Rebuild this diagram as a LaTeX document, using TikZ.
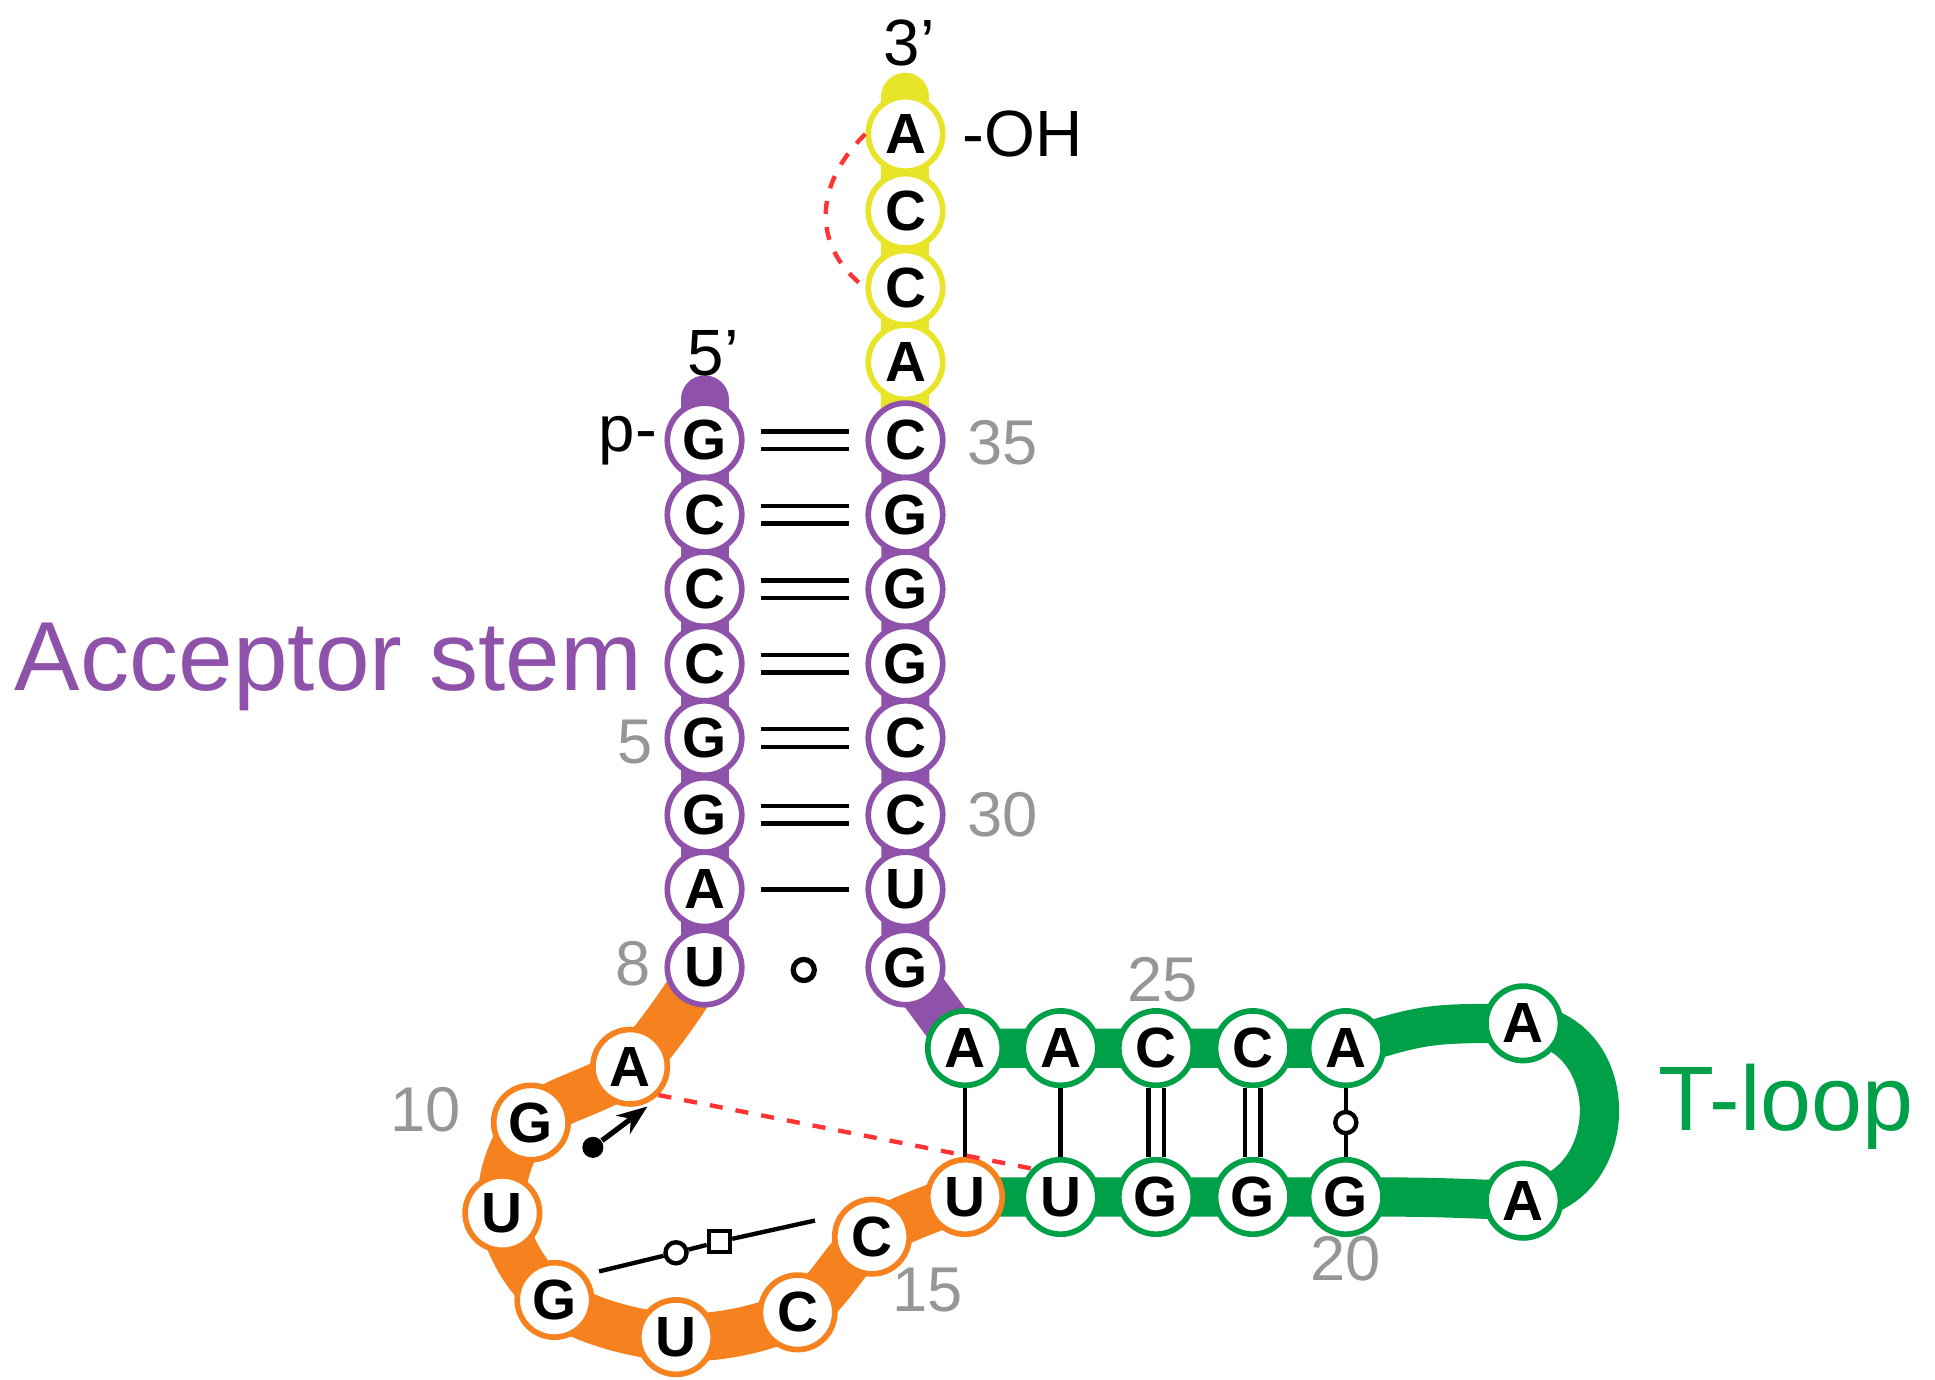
\documentclass[tikz,border=0pt]{standalone}
\usepackage{fontspec}
\setmainfont{Liberation Sans}
\usetikzlibrary{backgrounds,arrows.meta}
\definecolor{pur}{RGB}{143,82,170}
\definecolor{org}{RGB}{245,130,30}
\definecolor{grn}{RGB}{0,160,72}
\definecolor{yel}{RGB}{232,228,40}
\definecolor{gry}{RGB}{150,150,150}
\begin{document}
\begin{tikzpicture}[x=0.01cm,y=-0.01cm,
 base/.style={circle,draw=#1,line width=1.3pt,fill=white,minimum size=0.6cm,inner sep=0pt,font=\bfseries\fontsize{13}{13}\selectfont},
 bar/.style={line width=11pt,#1,line cap=round,line join=round},
 num/.style={gry,font=\fontsize{14.5}{14.5}\selectfont},
 lab/.style={font=\fontsize{15}{15}\selectfont},
 pr/.style={line width=1pt},
 dp/.style={line width=1pt,double,double distance=3pt,shorten <=0.13cm,shorten >=0.13cm}]
\useasboundingbox (0,0) rectangle (1560,1112);
\foreach \n/\y/\t in {1/355/G,2/415/C,3/475/C,4/535/C,5/595/G,6/657/G,7/717/A,8/780/U}
  \node[base=pur] (l\n) at (568,\y) {\t};
\foreach \n/\y/\t in {1/108/A,2/170/C,3/232/C,4/292/A}
  \node[base=yel] (y\n) at (730,\y) {\t};
\foreach \n/\y/\t in {1/355/C,2/415/G,3/475/G,4/535/G,5/595/C,6/657/C,7/717/U,8/780/G}
  \node[base=pur] (r\n) at (730,\y) {\t};
\node[base=org] (o1) at (508,860) {A};
\node[base=org] (o2) at (428,905) {G};
\node[base=org] (o3) at (405,978) {U};
\node[base=org] (o4) at (447,1048) {G};
\node[base=org] (o5) at (545,1078) {U};
\node[base=org] (o6) at (643,1058) {C};
\node[base=org] (o7) at (703,997) {C};
\node[base=org] (o8) at (778,965) {U};
\foreach \n/\x/\t in {1/778/A,2/855/A,3/932/C,4/1010/C,5/1085/A}
  \node[base=grn] (t\n) at (\x,845) {\t};
\foreach \n/\x/\t in {2/855/U,3/932/G,4/1010/G,5/1085/G}
  \node[base=grn] (b\n) at (\x,965) {\t};
\node[base=grn] (tA) at (1228,825) {A};
\node[base=grn] (bA) at (1228,968) {A};
\begin{pgfonlayer}{background}
 \coordinate (cap5) at (568,322);
 \coordinate (cap3) at (730,78);
 \draw[bar=pur] (cap5) -- (l8.center);
 \draw[bar=yel] (cap3) -- (y4.center) -- (r1.center);
 \draw[bar=pur] (r1.center) -- (r8.center) -- (t1.center);
 \draw[bar=org] plot[smooth,tension=0.6] coordinates {(l8.center) (o1.center) (o2.center) (o3.center) (o4.center) (o5.center) (o6.center) (o7.center) (o8.center)};
 \draw[bar=grn,line width=9pt] (o8.center) -- (b5.center) .. controls (1150,965) .. (bA.center)
   .. controls (1310,960) and (1310,830) .. (tA.center) .. controls (1150,825) .. (t5.center) -- (t1.center);
\end{pgfonlayer}
\foreach \i in {1,...,6}
  \draw[dp] (l\i) -- (r\i);
\draw[pr,shorten <=0.13cm,shorten >=0.13cm] (l7) -- (r7);
\node[circle,draw,line width=1.2pt,minimum size=0.17cm,inner sep=0pt] (wob) at (648,782) {};
\draw[pr] (t1) -- (o8);
\draw[pr] (t2) -- (b2);
\draw[line width=1pt,double,double distance=2.5pt] (t3) -- (b3);
\draw[line width=1pt,double,double distance=2.5pt] (t4) -- (b4);
\node[circle,draw,line width=1pt,fill=white,minimum size=0.17cm,inner sep=0pt] (gc) at (1085,905) {};
\draw[pr] (t5) -- (gc) -- (b5);
\draw[red!80,dashed,line width=1pt] (y1.west) .. controls (655,150) and (655,200) .. (y3.west);
\draw[red!80,dashed,line width=1pt] (o1.south east) -- (b2.north west);
\node[circle,fill=black,minimum size=0.17cm,inner sep=0pt] (dot) at (478,925) {};
\coordinate (arr) at (522,892);
\draw[line width=1.2pt,-{Stealth[length=7pt]}] (dot) -- (arr);
\coordinate (ha) at (483,1025);
\coordinate (hb) at (657,984);
\node[circle,draw,line width=1pt,fill=white,minimum size=0.17cm,inner sep=0pt] (hc) at (545,1010) {};
\node[draw,line width=1pt,fill=white,minimum size=0.17cm,inner sep=0pt] (hs) at (580,1001) {};
\draw[pr] (ha) -- (hc) -- (hs) -- (hb);
\node[lab] (p5) at (575,285) {5’};
\node[lab] (p3) at (733,35) {3’};
\node[lab,anchor=east,inner sep=1pt] (pp) at (534,355) {p-};
\node[lab,anchor=west,inner sep=1pt] (oh) at (772,108) {-OH};
\node[num] (n35) at (808,357) {35};
\node[num] (n30) at (808,657) {30};
\node[num] (n5) at (512,598) {5};
\node[num] (n8) at (510,777) {8};
\node[num] (n25) at (937,790) {25};
\node[num] (n10) at (343,895) {10};
\node[num] (n15) at (748,1040) {15};
\node[num] (n20) at (1085,1015) {20};
\node[pur,font=\fontsize{22.5}{22.5}\selectfont,anchor=east,inner sep=1pt] (acc) at (522,538) {Acceptor stem};
\node[grn,font=\fontsize{21}{21}\selectfont] (tl) at (1440,892) {T-loop};
\end{tikzpicture}
\end{document}
